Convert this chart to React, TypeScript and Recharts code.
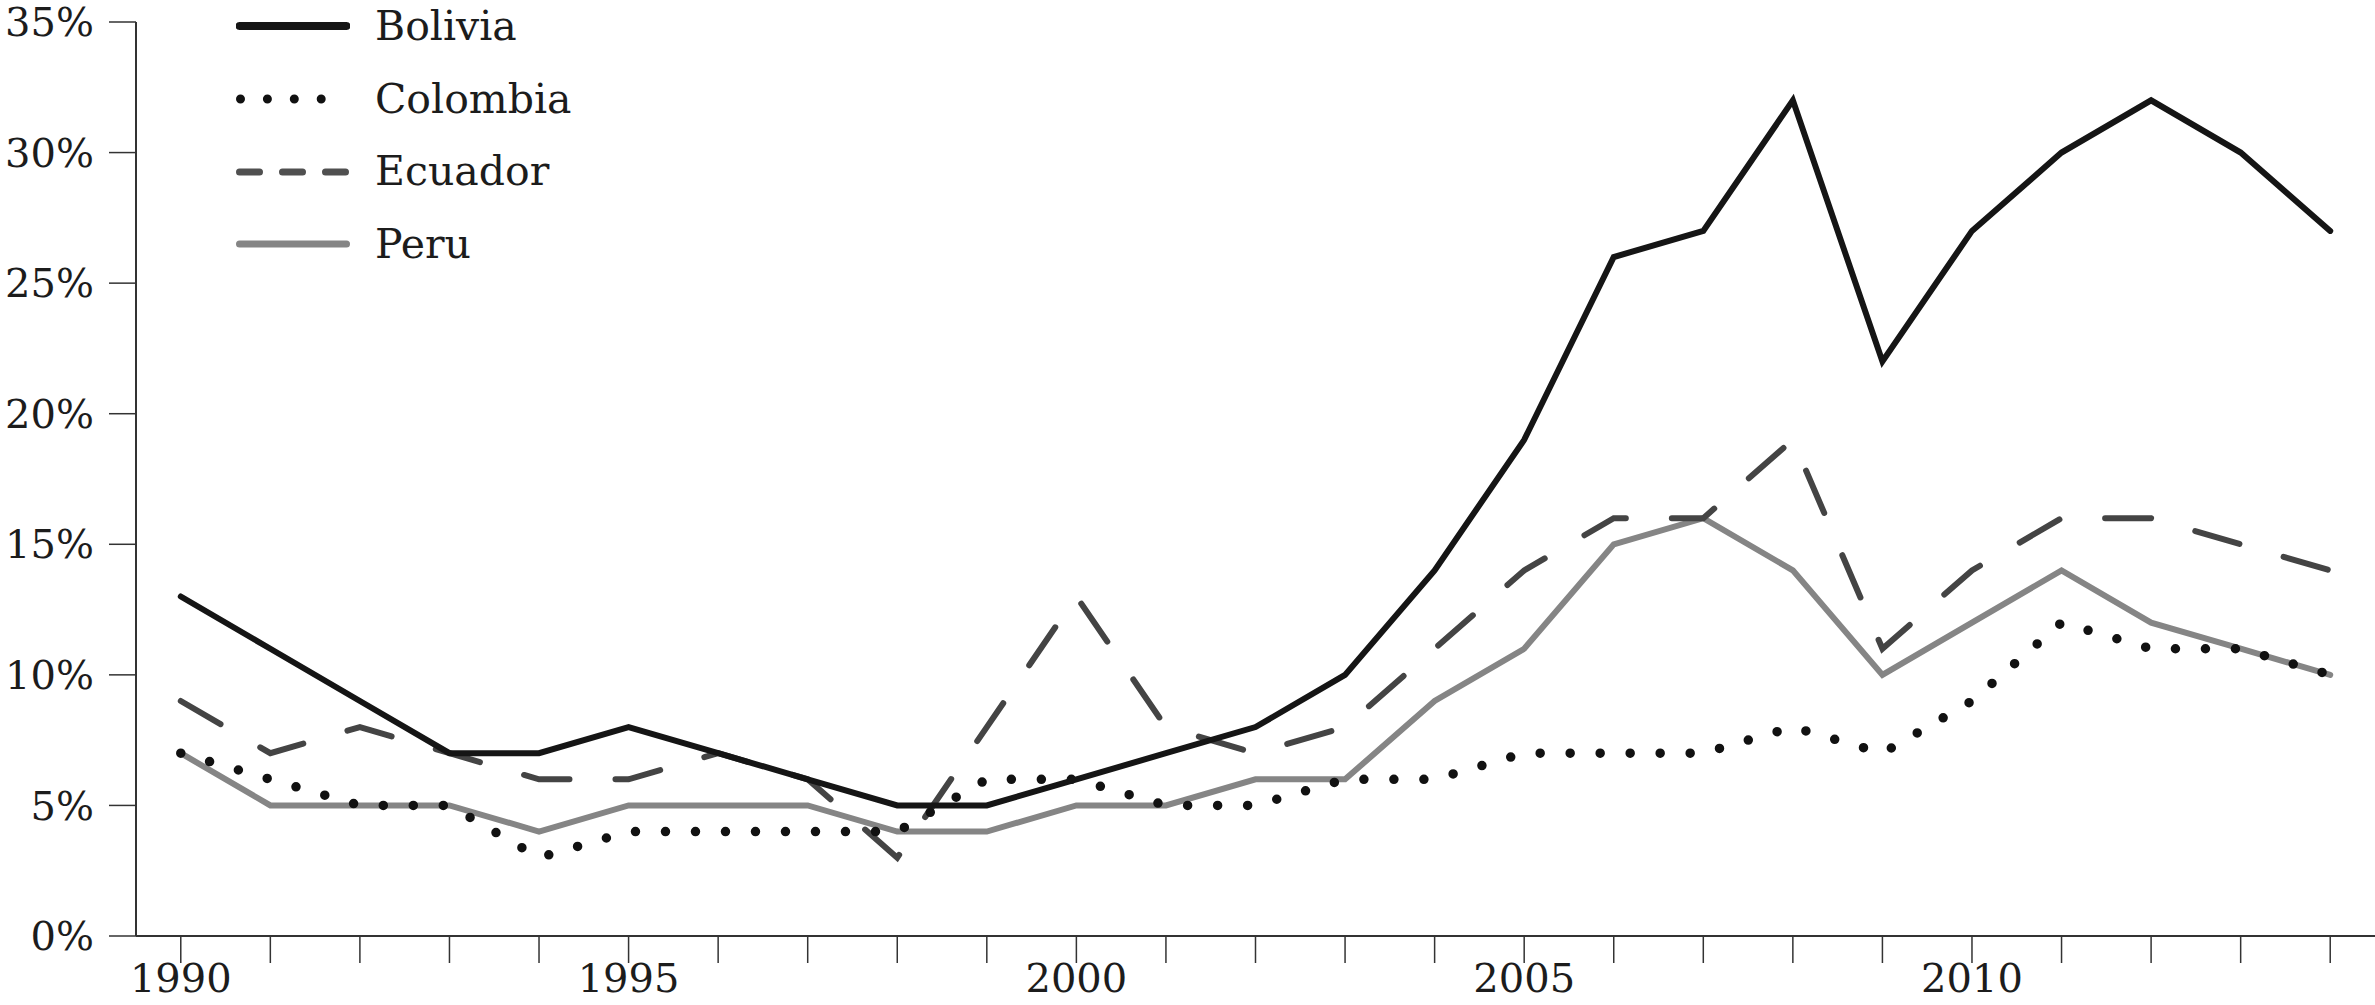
import { Legend, Line, LineChart, XAxis, YAxis } from 'recharts';

const YEARS = [
  1990, 1991, 1992, 1993, 1994, 1995, 1996, 1997, 1998, 1999, 2000, 2001, 2002,
  2003, 2004, 2005, 2006, 2007, 2008, 2009, 2010, 2011, 2012, 2013, 2014,
];
const BOLIVIA = [13, 11, 9, 7, 7, 8, 7, 6, 5, 5, 6, 7, 8, 10, 14, 19, 26, 27, 32, 22, 27, 30, 32, 30, 27];
const COLOMBIA = [7, 6, 5, 5, 3, 4, 4, 4, 4, 6, 6, 5, 5, 6, 6, 7, 7, 7, 8, 7, 9, 12, 11, 11, 10];
const ECUADOR = [9, 7, 8, 7, 6, 6, 7, 6, 3, 8, 13, 8, 7, 8, 11, 14, 16, 16, 19, 11, 14, 16, 16, 15, 14];
const PERU = [7, 5, 5, 5, 4, 5, 5, 5, 4, 4, 5, 5, 6, 6, 9, 11, 15, 16, 14, 10, 12, 14, 12, 11, 10];
const Y_TICKS = [0, 5, 10, 15, 20, 25, 30, 35];

const FONT = '"DejaVu Serif", serif';
const INK = '#1c1c1c';

// drawn bottom to top; legend keeps the reading order below
const SERIES = [
  { key: 'peru', name: 'Peru', values: PERU, color: '#858585', width: 6, dash: undefined, legendDash: undefined, legendWidth: 7 },
  { key: 'ecuador', name: 'Ecuador', values: ECUADOR, color: '#444444', width: 6, dash: '46 46', legendDash: '20 23', legendWidth: 7 },
  { key: 'colombia', name: 'Colombia', values: COLOMBIA, color: '#111111', width: 9.5, dash: '0 30', legendDash: '0 26.9', legendWidth: 9 },
  { key: 'bolivia', name: 'Bolivia', values: BOLIVIA, color: '#151515', width: 6, dash: undefined, legendDash: undefined, legendWidth: 8 },
];
const LEGEND_ORDER = ['bolivia', 'colombia', 'ecuador', 'peru'];

const data = YEARS.map((year, i) => {
  const row: Record<string, number> = { year };
  for (const s of SERIES) row[s.key] = s.values[i];
  return row;
});

function LegendBox() {
  return (
    <div style={{ fontFamily: FONT, fontSize: 41, color: INK }}>
      {LEGEND_ORDER.map((k) => {
        const s = SERIES.find((x) => x.key === k)!;
        const dotted = s.key === 'colombia';
        return (
          <div key={k} style={{ height: 72.7, display: 'flex', alignItems: 'center' }}>
            <svg width={114} height={20} style={{ display: 'block' }}>
              <line
                x1={dotted ? 4.5 : 3.5}
                x2={dotted ? 112 : 110.5}
                y1={10}
                y2={10}
                stroke={s.key === 'ecuador' ? '#505050' : s.color}
                strokeWidth={s.legendWidth}
                strokeLinecap="round"
                strokeDasharray={s.legendDash}
              />
            </svg>
            <span style={{ marginLeft: 25, lineHeight: 1 }}>{s.name}</span>
          </div>
        );
      })}
    </div>
  );
}

export default function App() {
  return (
    <div style={{ position: 'absolute', left: 0, top: 0, width: 2375, height: 1005, background: '#fff' }}>
      <LineChart width={2375} height={1005} data={data} margin={{ top: 22, right: 0, bottom: 0, left: 0 }}>
        <XAxis
          dataKey="year"
          type="number"
          domain={[1989.5, 2014.5]}
          ticks={YEARS}
          interval={0}
          height={69}
          tickSize={27}
          tickMargin={1}
          axisLine={{ stroke: '#333', strokeWidth: 2 }}
          tickLine={{ stroke: '#333', strokeWidth: 1.5 }}
          tick={{ fill: INK, fontSize: 40, fontFamily: FONT }}
          tickFormatter={(v: number) => (v % 5 === 0 ? String(v) : '')}
        />
        <YAxis
          domain={[0, 35]}
          ticks={Y_TICKS}
          interval={0}
          width={136}
          tickSize={27}
          tickMargin={15}
          axisLine={{ stroke: '#333', strokeWidth: 2 }}
          tickLine={{ stroke: '#333', strokeWidth: 1.5 }}
          tick={{ fill: INK, fontSize: 40, fontFamily: FONT }}
          tickFormatter={(v: number) => `${v}%`}
        />
        <Legend
          layout="vertical"
          align="center"
          verticalAlign="middle"
          wrapperStyle={{ left: 236, top: -10, width: 400 }}
          content={() => <LegendBox />}
        />
        {SERIES.map((s) => (
          <Line
            key={s.key}
            type="linear"
            dataKey={s.key}
            name={s.name}
            stroke={s.color}
            strokeWidth={s.width}
            strokeDasharray={s.dash}
            strokeLinecap="round"
            strokeLinejoin="miter"
            dot={false}
            activeDot={false}
            isAnimationActive={false}
          />
        ))}
      </LineChart>
    </div>
  );
}
